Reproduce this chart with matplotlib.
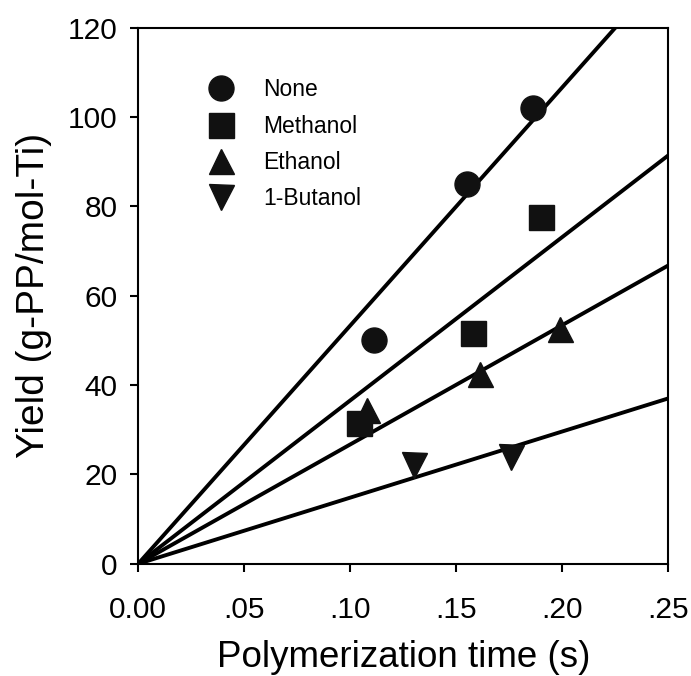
import numpy as np
import matplotlib.pyplot as plt
from matplotlib.ticker import FuncFormatter

plt.rcParams['font.family'] = ['Liberation Sans', 'DejaVu Sans']

# data
series = ["None", "Methanol", "Ethanol", "1-Butanol"]
markers = ["o", "s", "^", "v"]

none_t = [0.111, 0.155, 0.186]
none_y = [50.0, 85.0, 102.1]
methanol_t = [0.104, 0.158, 0.190]
methanol_y = [31.4, 51.6, 77.6]
ethanol_t = [0.108, 0.161, 0.199]
ethanol_y = [34.5, 42.5, 52.5]
butanol_t = [0.130, 0.176]
butanol_y = [22.0, 24.0]

# slopes of the fitted lines through the origin (yield per second)
slopes = [533, 365.5, 267, 148]

x_ticks = [0.0, 0.05, 0.10, 0.15, 0.20, 0.25]
y_ticks = [0, 20, 40, 60, 80, 100, 120]

xs = [none_t, methanol_t, ethanol_t, butanol_t]
ys = [none_y, methanol_y, ethanol_y, butanol_y]

fig = plt.figure(figsize=(6.91, 6.76), dpi=100)
ax = fig.add_axes([0.2, 0.166, 0.767, 0.7933])

t = np.array([0.0, 0.25])
for k in range(len(series)):
    ax.plot(t, slopes[k] * t, color='black', lw=2.8, solid_capstyle='butt', zorder=2)
    ax.plot(xs[k], ys[k], linestyle='none', marker=markers[k], color='#111111',
            markersize=18, label=series[k], zorder=3)

ax.set_xlim(0, 0.25)
ax.set_ylim(0, 120)
ax.set_xticks(x_ticks)
ax.set_yticks(y_ticks)
ax.xaxis.set_major_formatter(FuncFormatter(lambda v, p: "0.00" if v == 0 else f"{v:.2f}"[1:]))
ax.tick_params(direction='out', length=6, width=1.5, labelsize=21.5, color='black')
ax.tick_params(axis='x', pad=17)
ax.tick_params(axis='y', pad=9)
for s in ax.spines.values():
    s.set_linewidth(1.5)

ax.set_xlabel("Polymerization time (s)", fontsize=26.5, labelpad=12)
ax.set_ylabel("Yield (g-PP/mol-Ti)", fontsize=28, labelpad=11)

ax.legend(loc='upper left', bbox_to_anchor=(0.134, 0.905), frameon=False, fontsize=16.5,
          handlelength=1.0, handletextpad=1.37, labelspacing=0.58, borderpad=0,
          borderaxespad=0)

fig.savefig("out.png", dpi=100)
